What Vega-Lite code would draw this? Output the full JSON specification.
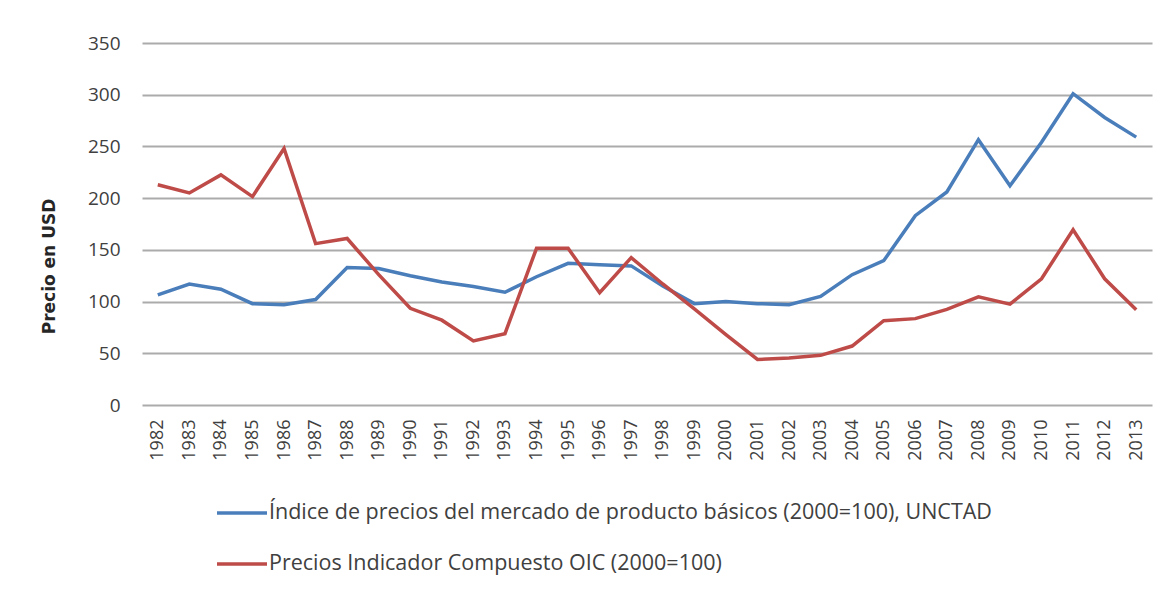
{
  "$schema": "https://vega.github.io/schema/vega-lite/v6.json",
  "autosize": {"type": "none"},
  "padding": {"left": 142, "top": 43, "right": 19, "bottom": 191},
  "width": 1010,
  "height": 362,
  "background": "white",
  "config": {
    "view": {"stroke": null},
    "font": "Open Sans"
  },
  "datasets": {
    "series": [
      {"year": "1982", "serie": "Índice de precios del mercado de producto básicos (2000=100), UNCTAD", "valor": 106.5},
      {"year": "1983", "serie": "Índice de precios del mercado de producto básicos (2000=100), UNCTAD", "valor": 117},
      {"year": "1984", "serie": "Índice de precios del mercado de producto básicos (2000=100), UNCTAD", "valor": 112},
      {"year": "1985", "serie": "Índice de precios del mercado de producto básicos (2000=100), UNCTAD", "valor": 98},
      {"year": "1986", "serie": "Índice de precios del mercado de producto básicos (2000=100), UNCTAD", "valor": 97},
      {"year": "1987", "serie": "Índice de precios del mercado de producto básicos (2000=100), UNCTAD", "valor": 102},
      {"year": "1988", "serie": "Índice de precios del mercado de producto básicos (2000=100), UNCTAD", "valor": 133},
      {"year": "1989", "serie": "Índice de precios del mercado de producto básicos (2000=100), UNCTAD", "valor": 132},
      {"year": "1990", "serie": "Índice de precios del mercado de producto básicos (2000=100), UNCTAD", "valor": 125},
      {"year": "1991", "serie": "Índice de precios del mercado de producto básicos (2000=100), UNCTAD", "valor": 119},
      {"year": "1992", "serie": "Índice de precios del mercado de producto básicos (2000=100), UNCTAD", "valor": 114.5},
      {"year": "1993", "serie": "Índice de precios del mercado de producto básicos (2000=100), UNCTAD", "valor": 109},
      {"year": "1994", "serie": "Índice de precios del mercado de producto básicos (2000=100), UNCTAD", "valor": 124},
      {"year": "1995", "serie": "Índice de precios del mercado de producto básicos (2000=100), UNCTAD", "valor": 137},
      {"year": "1996", "serie": "Índice de precios del mercado de producto básicos (2000=100), UNCTAD", "valor": 135.5},
      {"year": "1997", "serie": "Índice de precios del mercado de producto básicos (2000=100), UNCTAD", "valor": 134.5},
      {"year": "1998", "serie": "Índice de precios del mercado de producto básicos (2000=100), UNCTAD", "valor": 115},
      {"year": "1999", "serie": "Índice de precios del mercado de producto básicos (2000=100), UNCTAD", "valor": 98},
      {"year": "2000", "serie": "Índice de precios del mercado de producto básicos (2000=100), UNCTAD", "valor": 100},
      {"year": "2001", "serie": "Índice de precios del mercado de producto básicos (2000=100), UNCTAD", "valor": 98},
      {"year": "2002", "serie": "Índice de precios del mercado de producto básicos (2000=100), UNCTAD", "valor": 97},
      {"year": "2003", "serie": "Índice de precios del mercado de producto básicos (2000=100), UNCTAD", "valor": 105},
      {"year": "2004", "serie": "Índice de precios del mercado de producto básicos (2000=100), UNCTAD", "valor": 126},
      {"year": "2005", "serie": "Índice de precios del mercado de producto básicos (2000=100), UNCTAD", "valor": 139.5},
      {"year": "2006", "serie": "Índice de precios del mercado de producto básicos (2000=100), UNCTAD", "valor": 183},
      {"year": "2007", "serie": "Índice de precios del mercado de producto básicos (2000=100), UNCTAD", "valor": 206},
      {"year": "2008", "serie": "Índice de precios del mercado de producto básicos (2000=100), UNCTAD", "valor": 256.5},
      {"year": "2009", "serie": "Índice de precios del mercado de producto básicos (2000=100), UNCTAD", "valor": 212},
      {"year": "2010", "serie": "Índice de precios del mercado de producto básicos (2000=100), UNCTAD", "valor": 254},
      {"year": "2011", "serie": "Índice de precios del mercado de producto básicos (2000=100), UNCTAD", "valor": 301},
      {"year": "2012", "serie": "Índice de precios del mercado de producto básicos (2000=100), UNCTAD", "valor": 278},
      {"year": "2013", "serie": "Índice de precios del mercado de producto básicos (2000=100), UNCTAD", "valor": 259},
      {"year": "1982", "serie": "Precios Indicador Compuesto OIC (2000=100)", "valor": 213},
      {"year": "1983", "serie": "Precios Indicador Compuesto OIC (2000=100)", "valor": 205},
      {"year": "1984", "serie": "Precios Indicador Compuesto OIC (2000=100)", "valor": 222.5},
      {"year": "1985", "serie": "Precios Indicador Compuesto OIC (2000=100)", "valor": 201.5},
      {"year": "1986", "serie": "Precios Indicador Compuesto OIC (2000=100)", "valor": 248},
      {"year": "1987", "serie": "Precios Indicador Compuesto OIC (2000=100)", "valor": 156},
      {"year": "1988", "serie": "Precios Indicador Compuesto OIC (2000=100)", "valor": 161},
      {"year": "1989", "serie": "Precios Indicador Compuesto OIC (2000=100)", "valor": 126},
      {"year": "1990", "serie": "Precios Indicador Compuesto OIC (2000=100)", "valor": 93.5},
      {"year": "1991", "serie": "Precios Indicador Compuesto OIC (2000=100)", "valor": 82},
      {"year": "1992", "serie": "Precios Indicador Compuesto OIC (2000=100)", "valor": 62},
      {"year": "1993", "serie": "Precios Indicador Compuesto OIC (2000=100)", "valor": 69},
      {"year": "1994", "serie": "Precios Indicador Compuesto OIC (2000=100)", "valor": 151.5},
      {"year": "1995", "serie": "Precios Indicador Compuesto OIC (2000=100)", "valor": 151.5},
      {"year": "1996", "serie": "Precios Indicador Compuesto OIC (2000=100)", "valor": 108.5},
      {"year": "1997", "serie": "Precios Indicador Compuesto OIC (2000=100)", "valor": 142.5},
      {"year": "1998", "serie": "Precios Indicador Compuesto OIC (2000=100)", "valor": 117},
      {"year": "1999", "serie": "Precios Indicador Compuesto OIC (2000=100)", "valor": 93},
      {"year": "2000", "serie": "Precios Indicador Compuesto OIC (2000=100)", "valor": 68},
      {"year": "2001", "serie": "Precios Indicador Compuesto OIC (2000=100)", "valor": 44},
      {"year": "2002", "serie": "Precios Indicador Compuesto OIC (2000=100)", "valor": 45.5},
      {"year": "2003", "serie": "Precios Indicador Compuesto OIC (2000=100)", "valor": 48},
      {"year": "2004", "serie": "Precios Indicador Compuesto OIC (2000=100)", "valor": 57},
      {"year": "2005", "serie": "Precios Indicador Compuesto OIC (2000=100)", "valor": 81.5},
      {"year": "2006", "serie": "Precios Indicador Compuesto OIC (2000=100)", "valor": 83.5},
      {"year": "2007", "serie": "Precios Indicador Compuesto OIC (2000=100)", "valor": 92.5},
      {"year": "2008", "serie": "Precios Indicador Compuesto OIC (2000=100)", "valor": 104.5},
      {"year": "2009", "serie": "Precios Indicador Compuesto OIC (2000=100)", "valor": 97.5},
      {"year": "2010", "serie": "Precios Indicador Compuesto OIC (2000=100)", "valor": 122},
      {"year": "2011", "serie": "Precios Indicador Compuesto OIC (2000=100)", "valor": 169.5},
      {"year": "2012", "serie": "Precios Indicador Compuesto OIC (2000=100)", "valor": 122},
      {"year": "2013", "serie": "Precios Indicador Compuesto OIC (2000=100)", "valor": 92}
    ]
  },
  "data": {"name": "series"},
  "mark": {"type": "line", "strokeWidth": 3.5, "interpolate": "linear"},
  "encoding": {
    "x": {
      "field": "year",
      "type": "ordinal",
      "scale": {"type": "point", "padding": 0.5},
      "axis": {
        "title": null,
        "labelAngle": -90,
        "labelFontSize": 18,
        "labelColor": "#404040",
        "labelPadding": 14,
        "domain": false,
        "ticks": false,
        "grid": false
      }
    },
    "y": {
      "field": "valor",
      "type": "quantitative",
      "scale": {"domain": [0, 350], "nice": false},
      "axis": {
        "title": "Precio en USD",
        "titleFont": "DejaVu Sans",
        "titleFontSize": 17,
        "titleFontWeight": "bold",
        "titleColor": "#262626",
        "titleX": -84,
        "titleY": 223,
        "titleAngle": -90,
        "titleAlign": "center",
        "titleBaseline": "bottom",
        "values": [0, 50, 100, 150, 200, 250, 300, 350],
        "labelFontSize": 19,
        "labelColor": "#404040",
        "labelPadding": 22,
        "domain": false,
        "ticks": false,
        "grid": true,
        "gridColor": "#ababab",
        "gridWidth": 1.8
      }
    },
    "color": {
      "field": "serie",
      "type": "nominal",
      "scale": {
        "domain": ["Índice de precios del mercado de producto básicos (2000=100), UNCTAD", "Precios Indicador Compuesto OIC (2000=100)"],
        "range": ["#4a7ebb", "#be4b48"]
      },
      "legend": {
        "title": null,
        "orient": "none",
        "legendX": 73,
        "legendY": 443,
        "direction": "vertical",
        "symbolType": "stroke",
        "symbolSize": 2500,
        "symbolStrokeWidth": 3.5,
        "labelFontSize": 21.5,
        "labelColor": "#404040",
        "labelOffset": 0,
        "labelLimit": 1000,
        "rowPadding": 13
      }
    }
  }
}
